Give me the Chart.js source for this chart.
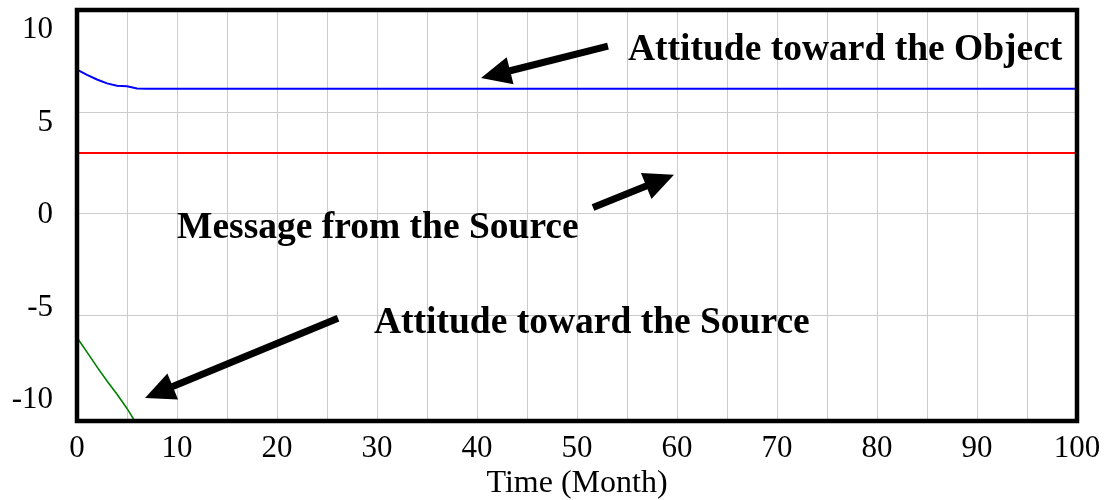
<!DOCTYPE html>
<html>
<head>
<meta charset="utf-8">
<script src="https://cdn.jsdelivr.net/npm/chart.js@4"></script>
<style>
html, body { margin: 0; padding: 0; background: #fff; }
</style>
</head>
<body>
<canvas id="chart" width="1105" height="500"></canvas>
<script>
// x axis (months)
const xLabels = [0, 10, 20, 30, 40, 50, 60, 70, 80, 90, 100];
const xGrid = [0, 5, 10, 15, 20, 25, 30, 35, 40, 45, 50, 55, 60, 65, 70, 75, 80, 85, 90, 95, 100];
const yLabels = [10, 5, 0, -5, -10];
const yGrid = [10, 5, 0, -5];

// Attitude toward the Object (blue)
const objTime = [0, 1, 2, 3, 4, 5, 6, 7, 100];
const objValue = [7.12, 6.86, 6.63, 6.44, 6.32, 6.30, 6.19, 6.18, 6.18];

// Message from the Source (red)
const msgTime = [0, 100];
const msgValue = [3.0, 3.0];

// Attitude toward the Source (green)
const srcTime = [0, 1, 2, 3, 4, 5, 6];
const srcValue = [-6.10, -6.82, -7.55, -8.25, -8.90, -9.60, -10.40];

// annotation texts and arrows (data units)
const noteText = ['Attitude toward the Object', 'Message from the Source', 'Attitude toward the Source'];
const noteX = [55.1, 10.0, 29.7];
const noteY = [7.59, -1.21, -5.89];
const arrowFrom = [[53.1, 8.28], [51.6, 0.31], [26.1, -5.15]];
const arrowTo = [[40.4, 6.70], [59.7, 1.93], [6.8, -9.08]];

const serif = '"Liberation Serif", "Times New Roman", serif';
Chart.defaults.font.family = serif;
Chart.defaults.color = '#000';

function pts(xs, ys) {
    return xs.map((x, i) => ({ x: x, y: ys[i] }));
}

// draws arrows, texts and the heavy frame
const decorations = {
    id: 'decorations',
    afterDatasetsDraw(chart) {
        const ctx = chart.ctx;
        const xs = chart.scales.x, ys = chart.scales.y;
        const a = chart.chartArea;
        ctx.save();

        // arrows
        ctx.fillStyle = '#000';
        ctx.strokeStyle = '#000';
        arrowFrom.forEach((from, i) => {
            const x1 = xs.getPixelForValue(from[0]), y1 = ys.getPixelForValue(from[1]);
            const x2 = xs.getPixelForValue(arrowTo[i][0]), y2 = ys.getPixelForValue(arrowTo[i][1]);
            const ang = Math.atan2(y2 - y1, x2 - x1);
            const headLen = 30, headHalf = 14;
            const bx = x2 - headLen * Math.cos(ang), by = y2 - headLen * Math.sin(ang);
            ctx.lineWidth = 7;
            ctx.beginPath();
            ctx.moveTo(x1, y1);
            ctx.lineTo(bx + 4 * Math.cos(ang), by + 4 * Math.sin(ang));
            ctx.stroke();
            ctx.beginPath();
            ctx.moveTo(x2, y2);
            ctx.lineTo(bx + headHalf * Math.sin(ang), by - headHalf * Math.cos(ang));
            ctx.lineTo(bx - headHalf * Math.sin(ang), by + headHalf * Math.cos(ang));
            ctx.closePath();
            ctx.fill();
        });

        // texts
        ctx.font = 'bold 37.5px ' + serif;
        ctx.textAlign = 'left';
        ctx.textBaseline = 'alphabetic';
        noteText.forEach((t, i) => {
            ctx.fillText(t, xs.getPixelForValue(noteX[i]), ys.getPixelForValue(noteY[i]));
        });

        // frame
        ctx.lineWidth = 4.5;
        ctx.strokeRect(a.left, a.top, a.right - a.left, a.bottom - a.top);
        ctx.restore();
    }
};

const ctx = document.getElementById('chart').getContext('2d');
new Chart(ctx, {
    type: 'line',
    data: {
        datasets: [
            { label: 'Attitude toward the Object', data: pts(objTime, objValue), borderColor: '#0000ff', borderWidth: 2 },
            { label: 'Message from the Source', data: pts(msgTime, msgValue), borderColor: '#ff0000', borderWidth: 2 },
            { label: 'Attitude toward the Source', data: pts(srcTime, srcValue), borderColor: '#008000', borderWidth: 1.6 }
        ]
    },
    options: {
        responsive: false,
        animation: false,
        layout: { padding: { top: 10, right: 28, left: 0, bottom: 0 } },
        elements: { point: { radius: 0 }, line: { tension: 0 } },
        plugins: { legend: { display: false }, tooltip: { enabled: false } },
        scales: {
            x: {
                type: 'linear',
                min: 0,
                max: 100,
                afterBuildTicks: (axis) => { axis.ticks = xGrid.map(v => ({ value: v })); },
                afterFit: (axis) => { axis.height = 79; axis.paddingLeft = 0; axis.paddingRight = 0; },
                ticks: {
                    autoSkip: false,
                    maxRotation: 0,
                    padding: 9,
                    font: { size: 31 },
                    callback: (v) => xLabels.includes(v) ? String(v) : ''
                },
                grid: { color: '#cccccc', lineWidth: 1, drawTicks: false },
                border: { display: false },
                title: { display: true, text: 'Time (Month)', font: { size: 32, lineHeight: 1.05 }, padding: { top: 0, bottom: 0 } }
            },
            y: {
                min: -10.22,
                max: 10.06,
                afterBuildTicks: (axis) => { axis.ticks = yGrid.map(v => ({ value: v })); },
                afterFit: (axis) => { axis.width = 0; axis.paddingTop = 0; axis.paddingBottom = 0; },
                ticks: { display: false },
                grid: { color: '#cccccc', lineWidth: 1, drawTicks: false },
                border: { display: false }
            },
            yl: {
                position: 'left',
                min: -11.135,
                max: 11.081,
                afterBuildTicks: (axis) => { axis.ticks = yLabels.map(v => ({ value: v })); },
                afterFit: (axis) => { axis.width = 77; axis.paddingTop = 0; axis.paddingBottom = 0; },
                ticks: { padding: 24, font: { size: 31 } },
                grid: { display: false, drawTicks: false },
                border: { display: false }
            }
        }
    },
    plugins: [decorations]
});
</script>
</body>
</html>
